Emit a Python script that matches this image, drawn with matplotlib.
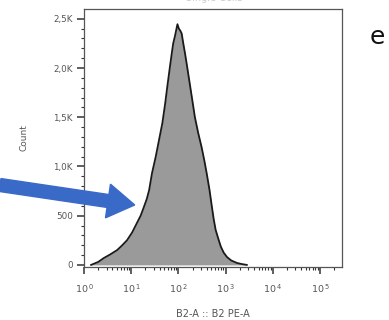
import numpy as np
import matplotlib.pyplot as plt
from matplotlib.patches import FancyArrow
from matplotlib.ticker import FixedLocator, LogLocator, NullFormatter

plt.rcParams['font.family'] = ['DejaVu Sans']
plt.rcParams['mathtext.fontset'] = 'dejavusans'

# B2 PE-A histogram outline: log10 intensity vs cell count
log_pe = [0.15, 0.2, 0.3, 0.42, 0.55, 0.7, 0.8, 0.91, 1.02, 1.12, 1.2, 1.27, 1.33,
          1.38, 1.44, 1.52, 1.59, 1.66, 1.72, 1.77, 1.82, 1.86, 1.89, 1.93, 1.96,
          1.98, 2.01, 2.04, 2.07, 2.1, 2.14, 2.18, 2.23, 2.28, 2.35, 2.42, 2.49,
          2.55, 2.6, 2.66, 2.71, 2.75, 2.79, 2.85, 2.9, 2.96, 3.03, 3.12, 3.24,
          3.35, 3.45]
counts = [0, 10, 30, 70, 105, 150, 195, 250, 330, 425, 500, 590, 670,
          760, 930, 1100, 1270, 1440, 1640, 1830, 2010, 2150, 2250, 2330, 2400,
          2445, 2400, 2380, 2350, 2260, 2150, 2030, 1875, 1720, 1500, 1340, 1200,
          1060, 930, 760, 590, 460, 355, 260, 185, 125, 80, 45, 20,
          8, 0]

y_ticks = [0, 500, 1000, 1500, 2000, 2500]
y_labels = ['0', '500', '1,0K', '1,5K', '2,0K', '2,5K']
x_ticks = [1, 10, 100, 1000, 10000, 100000]
x_labels = [r'$10^{\,%d}$' % i for i in range(6)]

fig = plt.figure(figsize=(3.89, 3.2), dpi=100)
ax = fig.add_axes([0.216, 0.166, 0.663, 0.806])

x = 10 ** np.array(log_pe)
ax.fill_between(x, counts, 0, color='#9a9a9a', lw=0)
ax.plot(x, counts, color='#1a1a1a', lw=1.3)

ax.set_xscale('log')
ax.set_xlim(1, 10 ** 5.466)
ax.set_ylim(-20, 2600)

ax.set_xticks(x_ticks)
ax.set_xticklabels(x_labels)
ax.xaxis.set_minor_locator(LogLocator(base=10, subs=np.arange(2, 10), numticks=20))
ax.xaxis.set_minor_formatter(NullFormatter())
ax.set_yticks(y_ticks)
ax.set_yticklabels(y_labels)
ax.yaxis.set_minor_locator(FixedLocator(np.arange(0, 2600, 100)))

ax.tick_params(which='major', length=5, width=1.1, color='#333333',
               labelsize=6.3, labelcolor='#555555', pad=3)
ax.tick_params(axis='x', which='major', labelsize=6.8, pad=6)
ax.tick_params(which='minor', length=2.5, width=0.8, color='#333333')
for s in ax.spines.values():
    s.set_color('#555555')
    s.set_linewidth(0.9)

ax.set_ylabel('Count', fontsize=6.5, color='#555555', labelpad=18)
ax.set_xlabel('B2-A :: B2 PE-A', fontsize=7, color='#555555', labelpad=10)

# gate title, clipped at the top edge
fig.text(0.55, 0.998, 'Single Cells', fontsize=7, color='#cccccc',
         ha='center', va='baseline')

# panel letter
fig.text(0.97, 0.885, 'e', fontsize=18, color='#111111', ha='center', va='center')

# pointer arrow (inch coordinates)
arrow = FancyArrow(0.0, 1.35, 1.08, -0.16, width=0.13, head_width=0.34,
                   head_length=0.27, length_includes_head=False,
                   color='#3a6ac8', transform=fig.dpi_scale_trans)
fig.patches.append(arrow)

fig.savefig('out.png', dpi=100)
